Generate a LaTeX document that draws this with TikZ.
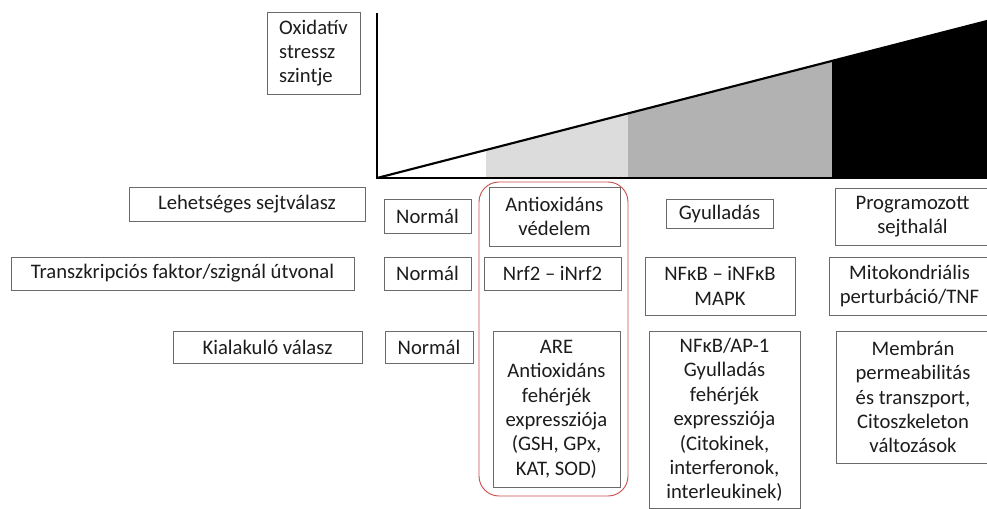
\documentclass[tikz,border=0pt]{standalone}
\usepackage{fontspec}
\setmainfont{Carlito}
\usepackage{xcolor}
\definecolor{boxgray}{HTML}{6A6A6A}
\definecolor{txtgray}{HTML}{1C1C1C}
\definecolor{framered}{HTML}{C8504D}
\definecolor{lightfill}{HTML}{DCDCDC}
\definecolor{midfill}{HTML}{B2B2B2}
\tikzset{cell/.style={draw=boxgray, line width=0.7pt, align=center, inner sep=0pt,
  text=txtgray, font=\fontsize{15.5}{18.3}\selectfont},
  axisline/.style={line width=1.6pt, black}}
\begin{document}
\begin{tikzpicture}[x=0.75pt, y=-0.75pt]
\useasboundingbox (0,0) rectangle (987,508);
\clip (0,0) rectangle (987,508);
\coordinate (o) at (377,178);
\coordinate (top) at (377,13);
\coordinate (end) at (987,178);
\fill[lightfill] (486,178) -- (486,150) -- (628,113.5) -- (628,178) -- cycle;
\fill[midfill] (628,178) -- (628,113.5) -- (832,61) -- (832,178) -- cycle;
\fill[black] (832,178) -- (832,61) -- (987,21) -- (987,178) -- cycle;
\draw[axisline] (o) -- (987,21);
\draw[axisline] (top) -- (o) -- (end);
\node[cell, align=left, minimum width=69.75pt, minimum height=61.5pt] (ox) at (313.5,53) {Oxidatív\\stressz\\szintje};
\node[cell, minimum width=177pt, minimum height=25.5pt] (lehet) at (247,204) {Lehetséges sejtválasz};
\node[cell, minimum width=65.25pt, minimum height=25.5pt] (norm1) at (427.5,216) {Normál};
\node[cell, minimum width=98.25pt, minimum height=44.25pt] (antiox) at (554.5,216.5) {Antioxidáns\\védelem};
\node[cell, minimum width=80.25pt, minimum height=21.75pt] (gyull) at (719.5,213.5) {Gyulladás};
\node[cell, minimum width=116.25pt, minimum height=42.75pt] (prog) at (912.5,216.5) {Programozott\\sejthalál};
\node[cell, minimum width=257.25pt, minimum height=24.75pt] (trans) at (182.5,273.5) {Transzkripciós faktor/szignál útvonal};
\node[cell, minimum width=65.25pt, minimum height=24.75pt] (norm2) at (427.5,273.5) {Normál};
\node[cell, minimum width=102.75pt, minimum height=24.75pt] (nrf) at (552.5,273.5) {Nrf2 – iNrf2};
\node[cell, minimum width=112.5pt, minimum height=43.5pt] (nfkb) at (720,286) {NFκB – iNFκB\\MAPK};
\node[cell, minimum width=120.75pt, minimum height=43.5pt] (mito) at (909.5,286) {Mitokondriális\\perturbáció/TNF};
\node[cell, minimum width=141.75pt, minimum height=24pt] (kial) at (267.5,347) {Kialakuló válasz};
\node[cell, minimum width=66pt, minimum height=24pt] (norm3) at (429,347) {Normál};
\node[cell, minimum width=95.25pt, minimum height=117pt] (are) at (556.5,409) {ARE\\Antioxidáns\\fehérjék\\expressziója\\(GSH, GPx,\\KAT, SOD)};
\node[cell, minimum width=113.25pt, inner ysep=5pt, anchor=north] (nfap) at (724.5,331) {NFκB/AP-1\\Gyulladás\\fehérjék\\expressziója\\(Citokinek,\\interferonok,\\interleukinek)};
\node[cell, minimum width=115.5pt, minimum height=99pt] (memb) at (913,397) {Membrán\\permeabilitás\\és transzport,\\Citoszkeleton\\változások};
\draw[framered, line width=0.7pt, rounded corners=15pt] (479,182) rectangle (628,496);
\end{tikzpicture}
\end{document}
